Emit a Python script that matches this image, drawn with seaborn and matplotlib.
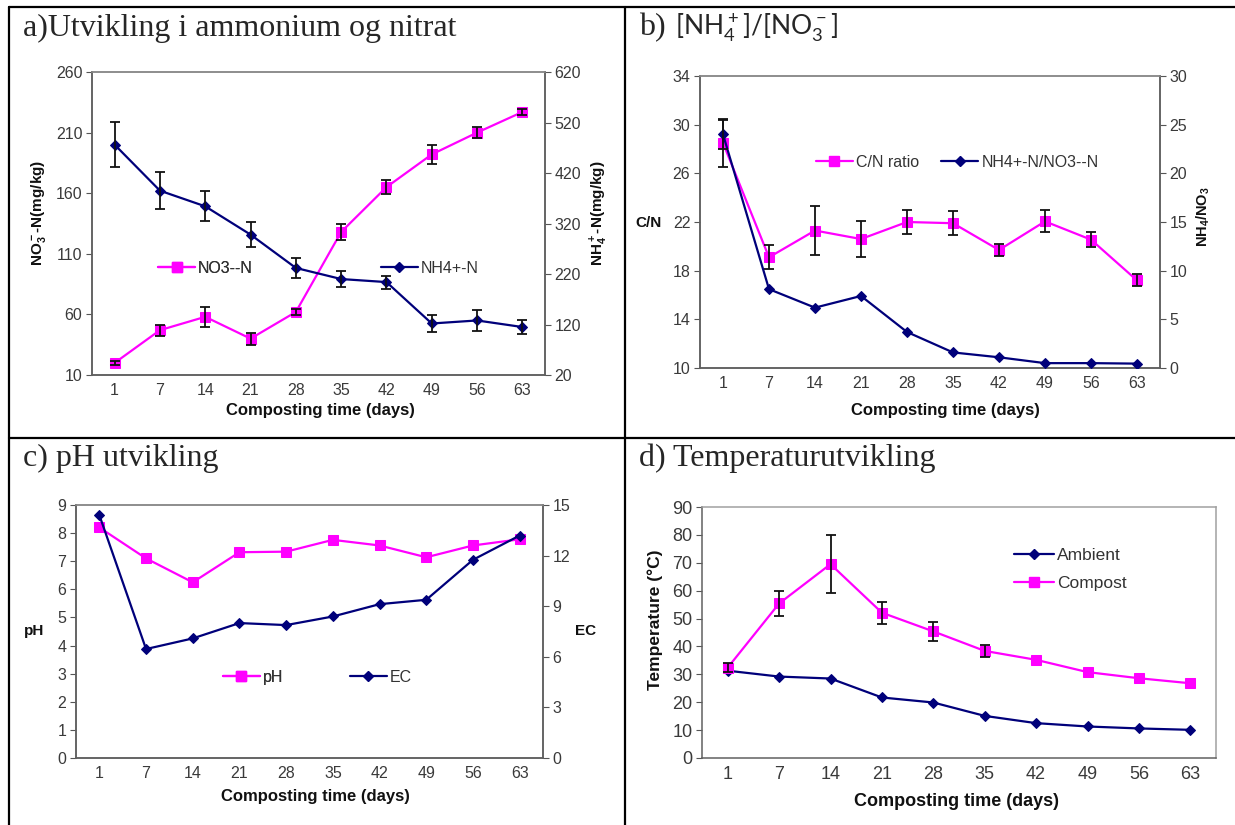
import numpy as np
import matplotlib
matplotlib.use("Agg")
import matplotlib.pyplot as plt
from matplotlib.lines import Line2D
import seaborn as sns

# x categories (composting time, days)
days = ["1", "7", "14", "21", "28", "35", "42", "49", "56", "63"]

# a) nitrate (left axis) and ammonium (right axis), mg/kg
no3 = [20, 47, 58, 40, 62, 128, 165, 192, 210, 227]
no3_err = [1.5, 4.5, 8, 5, 2.5, 7, 6, 8, 4.5, 2.5]
nh4 = [476, 385, 354, 298, 232, 210, 204, 122, 128, 115]
nh4_err = [45, 36, 30, 25, 20, 16, 13, 16, 20, 13]

# b) C/N ratio (left) and NH4/NO3 (right)
cn = [28.5, 19.1, 21.3, 20.6, 22.0, 21.9, 19.7, 22.05, 20.55, 17.2]
cn_err = [2.0, 1.0, 2.0, 1.5, 1.0, 1.0, 0.5, 0.9, 0.6, 0.5]
ratio = [24.0, 8.1, 6.2, 7.4, 3.7, 1.6, 1.1, 0.5, 0.5, 0.45]
ratio_err = [1.5, 0, 0, 0, 0, 0, 0, 0, 0, 0]

# c) pH (left) and EC (right)
ph = [8.2, 7.1, 6.25, 7.32, 7.34, 7.76, 7.56, 7.14, 7.56, 7.78]
ec = [14.4, 6.46, 7.09, 8.0, 7.88, 8.39, 9.12, 9.38, 11.75, 13.19]

# d) temperature
ambient = [31.3, 29.2, 28.5, 21.7, 19.9, 15.1, 12.5, 11.3, 10.6, 10.1]
compost = [32.4, 55.4, 69.5, 52.1, 45.4, 38.4, 35.2, 30.8, 28.6, 26.8]
compost_err = [1.5, 4.6, 10.3, 4.0, 3.3, 2.1, 0, 0, 0, 0]

PINK = "#ff00ff"
NAVY = "#00007a"
TICK_C = "#3a3a3a"
TICK_FS = 11.5

sns.set_style("white")
plt.rcParams["font.family"] = ["Liberation Sans", "DejaVu Sans"]

W, H = 1235, 825
fig = plt.figure(figsize=(W / 100, H / 100), dpi=100)
pos = np.arange(len(days))


def px(x, y):
    return x / W, 1 - y / H


def make_axes(l, t, r, b):
    return fig.add_axes([l / W, 1 - b / H, (r - l) / W, (b - t) / H])


def style_axes(ax, ax2=None, light_box=False):
    ax.set_xlim(-0.5, 9.5)
    ax.set_xticks(np.arange(-0.5, 10, 1))
    ax.set_xticklabels([])
    ax.set_xticks(pos, minor=True)
    ax.set_xticklabels(days, minor=True)
    ax.tick_params(axis="x", which="major", direction="in", length=4,
                   color="#555555", width=1)
    ax.tick_params(axis="x", which="minor", length=0, pad=6,
                   labelsize=TICK_FS, labelcolor=TICK_C)
    ax.tick_params(axis="y", direction="out", length=4, color="#555555",
                   labelsize=TICK_FS, labelcolor=TICK_C, pad=3, left=True)
    for a in [ax] + ([ax2] if ax2 is not None else []):
        for side, sp in a.spines.items():
            sp.set_visible(True)
            sp.set_linewidth(1.1)
            sp.set_color("#606060")
        if light_box:
            a.spines["top"].set_color("#a0a0a0")
            a.spines["right"].set_color("#a0a0a0")
        else:
            a.spines["top"].set_color("#8a8a8a")
    if ax2 is not None:
        ax2.tick_params(axis="y", direction="out", length=4, color="#555555",
                        labelsize=TICK_FS, labelcolor=TICK_C, pad=3,
                        right=True)
    ax.grid(False)


def series(ax, y, color, marker, ms, err=None):
    sns.lineplot(x=pos, y=y, ax=ax, color=color, marker=marker,
                 markersize=ms, markeredgecolor=color, linewidth=1.6,
                 zorder=3)
    if err is not None:
        e = np.asarray(err, dtype=float)
        m = e > 0
        ax.errorbar(pos[m], np.asarray(y, dtype=float)[m], yerr=e[m],
                    fmt="none", ecolor="#111111", elinewidth=1.3,
                    capsize=3.5, capthick=1.3, zorder=4)


def handle(color, marker, ms):
    return Line2D([], [], color=color, marker=marker, markersize=ms,
                  markeredgecolor=color, lw=1.6)


def legend(ax, handles, labels, x, y, **kw):
    opts = dict(loc="center left", bbox_to_anchor=(x, y), frameon=False,
                fontsize=11.5, handlelength=2.3, handletextpad=0.2,
                borderpad=0, borderaxespad=0, labelcolor="#333333")
    opts.update(kw)
    leg = ax.legend(handles, labels, **opts)
    return leg


def flabel(x, y, s, rot=0, size=11):
    fx, fy = px(x, y)
    fig.text(fx, fy, s, rotation=rot, ha="center", va="center",
             fontsize=size, fontweight="bold", color="#111111")


SQ, DM = 6.5, 5

# ---- a) ammonium / nitrate
axa = make_axes(92, 72, 545, 375)
axa2 = axa.twinx()
series(axa, no3, PINK, "s", SQ, no3_err)
series(axa2, nh4, NAVY, "D", DM, nh4_err)
axa.set_ylim(10, 260)
axa.set_yticks(np.arange(10, 261, 50))
axa2.set_ylim(20, 620)
axa2.set_yticks(np.arange(20, 621, 100))
style_axes(axa, axa2)
axa.set_xlabel("")
axa.set_ylabel("")
axa2.set_ylabel("")
la = legend(axa, [handle(PINK, "s", SQ)], ["NO3--N"], 0.146, 0.353)
axa.add_artist(la)
legend(axa2, [handle(NAVY, "D", DM)], ["NH4+-N"], 0.638, 0.353)
flabel(39, 213, r"NO$\mathregular{_3^-}$-N(mg/kg)", rot=90)
flabel(599, 213, r"NH$\mathregular{_4^+}$-N(mg/kg)", rot=90)
flabel(320, 410, "Composting time (days)", size=12)

# ---- b) C/N and NH4/NO3
axb = make_axes(700, 76, 1160, 368)
axb2 = axb.twinx()
series(axb, cn, PINK, "s", SQ, cn_err)
series(axb2, ratio, NAVY, "D", DM, ratio_err)
axb.set_ylim(10, 34)
axb.set_yticks(np.arange(10, 35, 4))
axb2.set_ylim(0, 30)
axb2.set_yticks(np.arange(0, 31, 5))
style_axes(axb, axb2)
axb.set_ylabel("")
axb2.set_ylabel("")
legend(axb, [handle(PINK, "s", SQ), handle(NAVY, "D", DM)],
       ["C/N ratio", "NH4+-N/NO3--N"], 0.252, 0.705, ncol=2,
       columnspacing=1.4)
flabel(649, 223, "C/N")
flabel(1203, 217, r"NH$\mathregular{_4}$/NO$\mathregular{_3}$", rot=90,
       size=10.5)
flabel(945, 410, "Composting time (days)", size=12)

# ---- c) pH and EC
axc = make_axes(76, 505, 543, 758)
axc2 = axc.twinx()
series(axc, ph, PINK, "s", SQ)
series(axc2, ec, NAVY, "D", DM)
axc.set_ylim(0, 9)
axc.set_yticks(np.arange(0, 10, 1))
axc2.set_ylim(0, 15)
axc2.set_yticks(np.arange(0, 16, 3))
style_axes(axc, axc2)
axc.set_ylabel("")
axc2.set_ylabel("")
lc = legend(axc, [handle(PINK, "s", SQ)], ["pH"], 0.315, 0.32)
axc.add_artist(lc)
legend(axc2, [handle(NAVY, "D", DM)], ["EC"], 0.587, 0.32)
flabel(34, 631, "pH")
flabel(586, 631, "EC")
flabel(315, 797, "Composting time (days)", size=12)

# ---- d) temperature
axd = make_axes(702, 507, 1216, 758)
series(axd, ambient, NAVY, "D", DM)
series(axd, compost, PINK, "s", SQ, compost_err)
axd.set_ylim(0, 90)
axd.set_yticks(np.arange(0, 91, 10))
style_axes(axd, light_box=True)
axd.tick_params(axis="y", labelsize=13)
axd.tick_params(axis="x", which="minor", labelsize=13)
axd.set_ylabel("")
legend(axd, [handle(NAVY, "D", DM), handle(PINK, "s", SQ)],
       ["Ambient", "Compost"], 0.607, 0.751, labelspacing=0.7,
       fontsize=12.5)
flabel(655, 620, "Temperature (°C)", rot=90, size=12.5)
flabel(956, 801, "Composting time (days)", size=13)

# ---- panel titles
serif = ["Liberation Serif", "DejaVu Serif"]
TFS = 23
fig.text(*px(23, 28), "a)Utvikling i ammonium og nitrat", family=serif,
         fontsize=TFS, va="center", ha="left")
fig.text(*px(639, 28), "b)", family=serif, fontsize=TFS, va="center",
         ha="left")
fig.text(*px(675, 28), r"[NH$\mathregular{_4^+}$]/[NO$\mathregular{_3^-}$]",
         family=["Lato", "DejaVu Sans"], fontsize=19, va="center", ha="left")
fig.text(*px(23, 458), "c) pH utvikling", family=serif, fontsize=TFS,
         va="center", ha="left")
fig.text(*px(639, 458), "d) Temperaturutvikling", family=serif,
         fontsize=TFS, va="center", ha="left")


# ---- table border lines
def fline(xs, ys):
    fig.add_artist(Line2D([x / W for x in xs], [1 - y / H for y in ys],
                          color="black", lw=1.6, transform=fig.transFigure))


fline([9, W], [7, 7])
fline([9, W], [438, 438])
fline([9, 9], [7, H])
fline([625, 625], [7, H])

fig.savefig("out.png", dpi=100)
